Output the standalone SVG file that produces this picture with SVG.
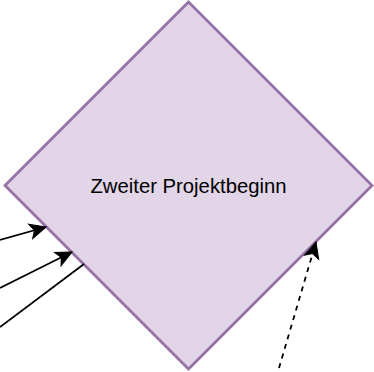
<svg xmlns="http://www.w3.org/2000/svg" width="374" height="372" viewBox="0 0 374 372">
  <style>
    .node { fill: #e1d5e7; stroke: #9673a6; stroke-width: 2.8; }
    .label { font-family: "Liberation Sans", Arial, Helvetica, sans-serif; font-size: 20.3px; fill: #000000; text-anchor: middle; }
    .edge { fill: none; stroke: #000000; stroke-width: 1.8; }
    .dashed { stroke-dasharray: 5 5; }
  </style>
  <defs>
    <marker id="arrow" markerUnits="userSpaceOnUse" viewBox="-17 -9 18 18" refX="0" refY="0" markerWidth="18" markerHeight="18" orient="auto">
      <path d="M0,0 L-16,-7.5 L-12,0 L-16,7.5 Z" fill="#000000" stroke="#000000" stroke-width="1"/>
    </marker>
  </defs>
  <rect width="374" height="372" fill="#ffffff"/>
  <g id="node-zweiter-projektbeginn">
    <polygon class="node" points="188.5,2 372,185.5 188.5,369 5,185.5"/>
    <text class="label" x="188.5" y="192.5">Zweiter Projektbeginn</text>
  </g>
  <g id="connectors">
    <line class="edge" x1="0" y1="240" x2="46" y2="227" marker-end="url(#arrow)"/>
    <line class="edge" x1="0" y1="288" x2="72" y2="252" marker-end="url(#arrow)"/>
    <line class="edge" x1="0" y1="327" x2="84" y2="264"/>
    <line class="edge dashed" x1="279" y1="368" x2="316" y2="242" marker-end="url(#arrow)"/>
  </g>
</svg>
